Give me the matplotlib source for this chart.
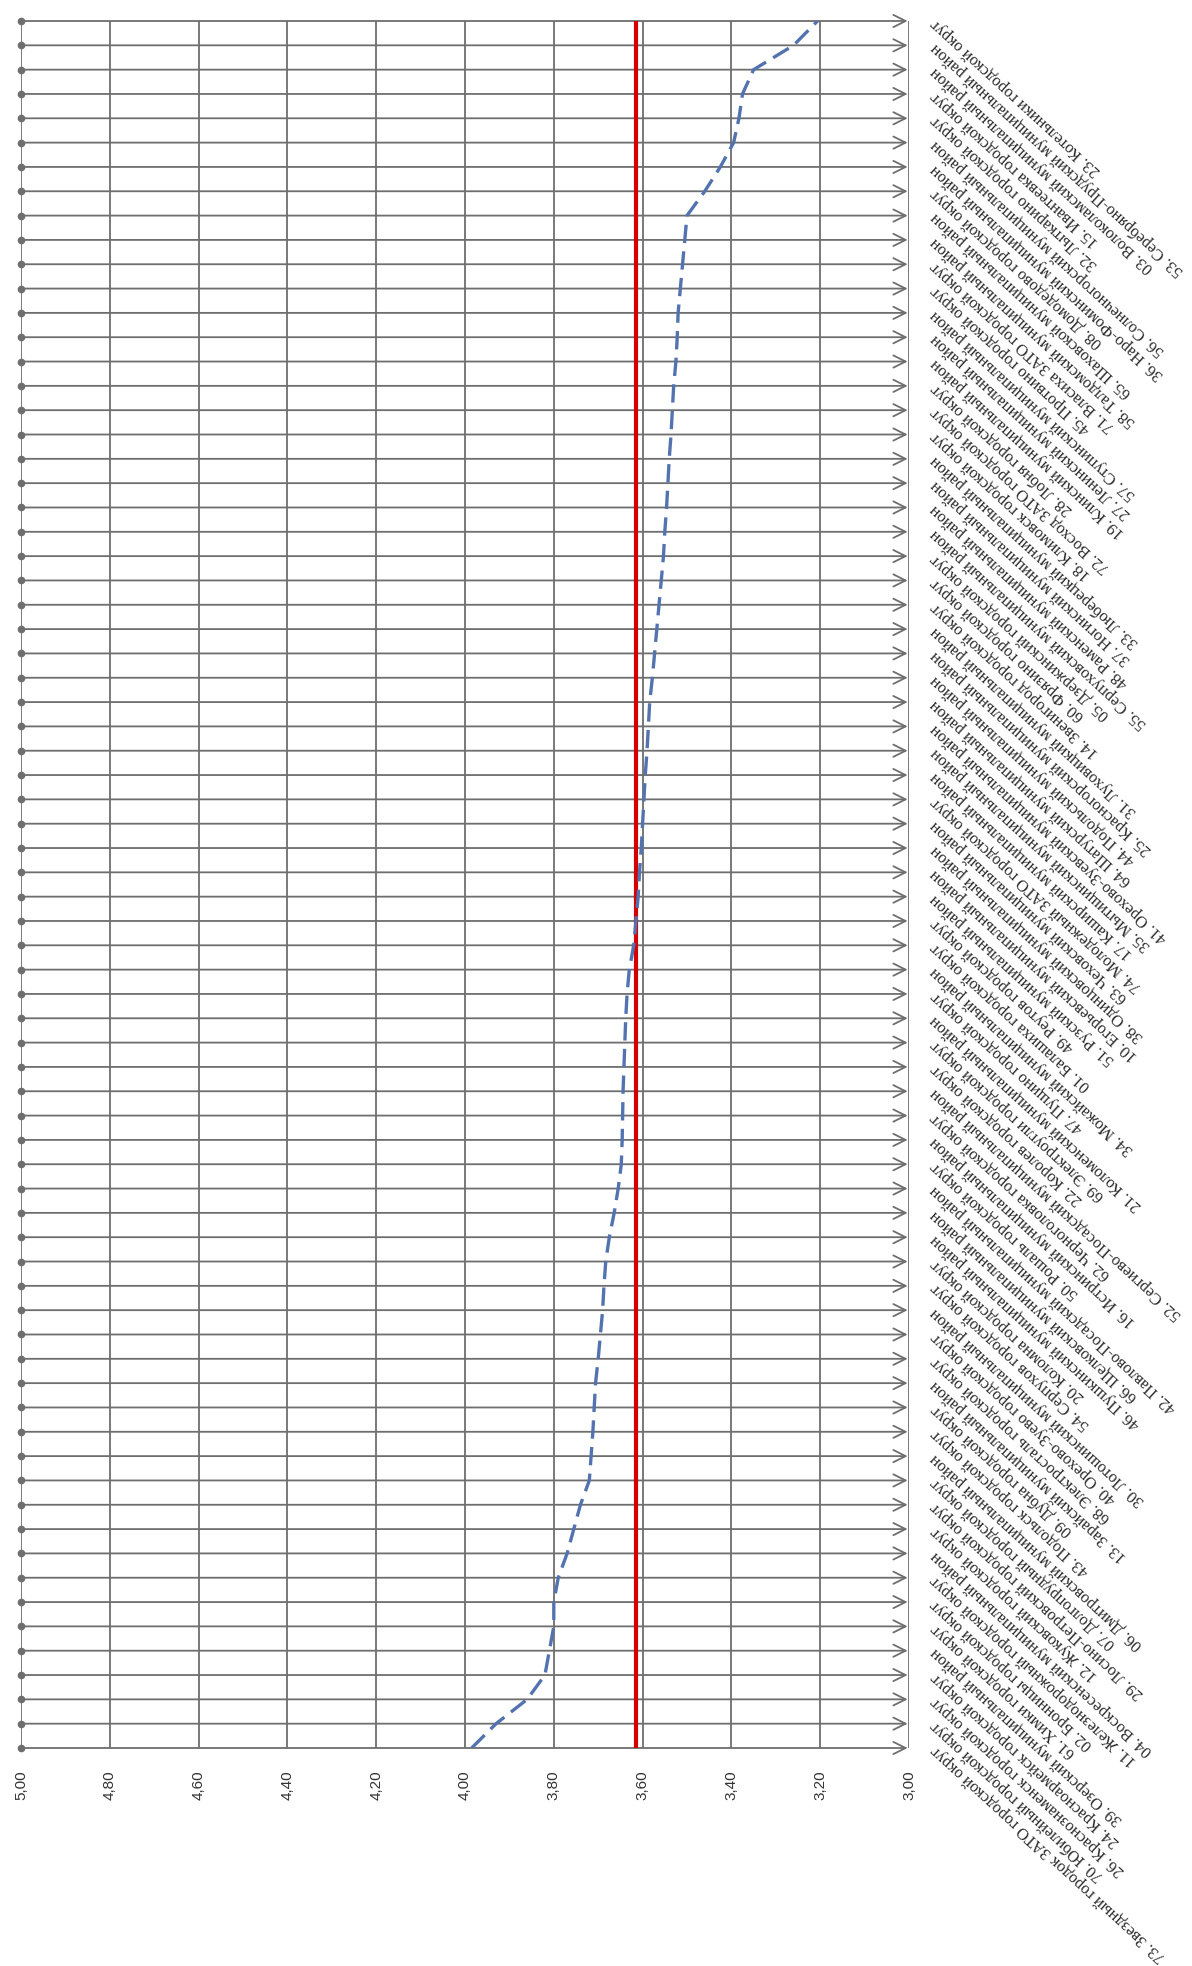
import matplotlib
matplotlib.use("Agg")
import matplotlib.pyplot as plt
from matplotlib.transforms import blended_transform_factory

# districts in chart order (first = bottom row), with their average scores
districts = [
    "73. Звездный городок ЗАТО городской округ",
    "70. Юбилейный городской округ",
    "26. Краснознаменск городской округ",
    "24. Красноармейск городской округ",
    "39. Озерский муниципальный район",
    "61. Химки городской округ",
    "02. Бронницы городской округ",
    "11. Железнодорожный городской округ",
    "04. Воскресенский муниципальный район",
    "12. Жуковский городской округ",
    "29. Лосино-Петровский городской округ",
    "07. Долгопрудный городской округ",
    "06. Дмитровский муниципальный район",
    "43. Подольск городской округ",
    "09. Дубна городской округ",
    "13. Зарайский муниципальный район",
    "68. Электросталь городской округ",
    "40. Орехово-Зуево городской округ",
    "30. Лотошинский муниципальный район",
    "54. Серпухов городской округ",
    "20. Коломна городской округ",
    "46. Пушкинский муниципальный район",
    "66. Щелковский муниципальный район",
    "42. Павлово-Посадский муниципальный район",
    "50. Рошаль городской округ",
    "16. Истринский муниципальный район",
    "62. Черноголовка городской округ",
    "52. Сергиево-Посадский муниципальный район",
    "22. Королев городской округ",
    "69. Электроугли городской округ",
    "21. Коломенский муниципальный район",
    "47. Пущино городской округ",
    "34. Можайский муниципальный район",
    "01. Балашиха городской округ",
    "49. Реутов городской округ",
    "51. Рузский муниципальный район",
    "10. Егорьевский муниципальный район",
    "38. Одинцовский муниципальный район",
    "63. Чеховский муниципальный район",
    "74. Молодежный ЗАТО городской округ",
    "17. Каширский муниципальный район",
    "35. Мытищинский муниципальный район",
    "41. Орехово-Зуевский муниципальный район",
    "64. Шатурский муниципальный район",
    "44. Подольский муниципальный район",
    "25. Красногорский муниципальный район",
    "31. Луховицкий муниципальный район",
    "14. Звенигород городской округ",
    "60. Фрязино городской округ",
    "05. Дзержинский городской округ",
    "55. Серпуховский муниципальный район",
    "48. Раменский муниципальный район",
    "37. Ногинский муниципальный район",
    "33. Люберецкий муниципальный район",
    "18. Климовск городской округ",
    "72. Восход ЗАТО городской округ",
    "28. Лобня городской округ",
    "19. Клинский муниципальный район",
    "27. Ленинский муниципальный район",
    "57. Ступинский муниципальный район",
    "45. Протвино городской округ",
    "71. Власиха ЗАТО городской округ",
    "58. Талдомский муниципальный район",
    "65. Шаховской муниципальный район",
    "08. Домодедово городской округ",
    "36. Наро-Фоминский муниципальный район",
    "56. Солнечногорский муниципальный район",
    "32. Лыткарино городской округ",
    "15. Ивантеевка городской округ",
    "03. Волоколамский муниципальный район",
    "53. Серебряно-Прудский муниципальный район",
    "23. Котельники городской округ",
]
scores = [
    3.985, 3.93, 3.86, 3.82, 3.81, 3.80, 3.80, 3.79, 3.77, 3.755,
    3.74, 3.72, 3.716, 3.712, 3.709, 3.706, 3.70, 3.695, 3.69, 3.687,
    3.683, 3.675, 3.664, 3.655, 3.648, 3.646, 3.645, 3.644, 3.642, 3.64,
    3.638, 3.635, 3.63, 3.62, 3.615, 3.61, 3.607, 3.603, 3.60, 3.597,
    3.594, 3.59, 3.587, 3.584, 3.578, 3.573, 3.568, 3.563, 3.558, 3.553,
    3.55, 3.546, 3.543, 3.54, 3.536, 3.533, 3.53, 3.525, 3.522, 3.52,
    3.515, 3.51, 3.505, 3.50, 3.46, 3.425, 3.395, 3.383, 3.375, 3.35,
    3.26, 3.206,
]
region_avg = 3.615
value_ticks = [5.0, 4.8, 4.6, 4.4, 4.2, 4.0, 3.8, 3.6, 3.4, 3.2, 3.0]

W, H = 1192, 1966
fig = plt.figure(figsize=(W / 100, H / 100), dpi=100)
ax = fig.add_axes([21 / W, 1 - 1748 / H, (909 - 21) / W, (1748 - 21) / H])

n = len(districts)
rows = list(range(n))
ax.set_xlim(5.0, 3.0)
ax.set_ylim(0, n - 1)

grid_col = "#6e6e6e"
# value gridlines
for v in value_ticks[1:-1]:
    ax.axvline(v, color="#555555", lw=1.1, zorder=1)
ax.axvline(5.0, color=grid_col, lw=1.3, zorder=1)
ax.axvline(3.0, color=grid_col, lw=1.3, zorder=1)

# one arrow per district, dot at the left end
for r in rows:
    ax.annotate("", xy=(3.0, r), xytext=(5.0, r),
                arrowprops=dict(arrowstyle="->", color=grid_col, lw=1.3,
                                mutation_scale=22, shrinkA=0, shrinkB=1),
                annotation_clip=False, zorder=2)
ax.plot([5.0] * n, rows, "o", color="#6e6e6e", ms=4.5, clip_on=False, zorder=3)

ax.plot([region_avg, region_avg], [0, n - 1], color="#d40000", lw=3.0, zorder=4)
ax.plot(scores, rows, color="#5373b0", lw=2.4, dashes=(5.5, 2.5), zorder=5)

for s in ax.spines.values():
    s.set_visible(False)
ax.set_yticks([])
ax.set_xticks(value_ticks)
ax.set_xticklabels([f"{v:.2f}".replace(".", ",") for v in value_ticks],
                   rotation=90, fontsize=11, family="Liberation Sans", color="#333333")
ax.tick_params(axis="x", length=0, pad=16)

tr = blended_transform_factory(ax.transAxes, ax.transData)
for r, name in zip(rows, districts):
    ax.text(1.027, r, name, transform=tr, rotation=137.5, rotation_mode="anchor",
            ha="right", va="center", fontsize=11.8, family="Liberation Serif",
            color="#2a2a2a", clip_on=False)

fig.savefig("out.png", dpi=100, facecolor="white")
